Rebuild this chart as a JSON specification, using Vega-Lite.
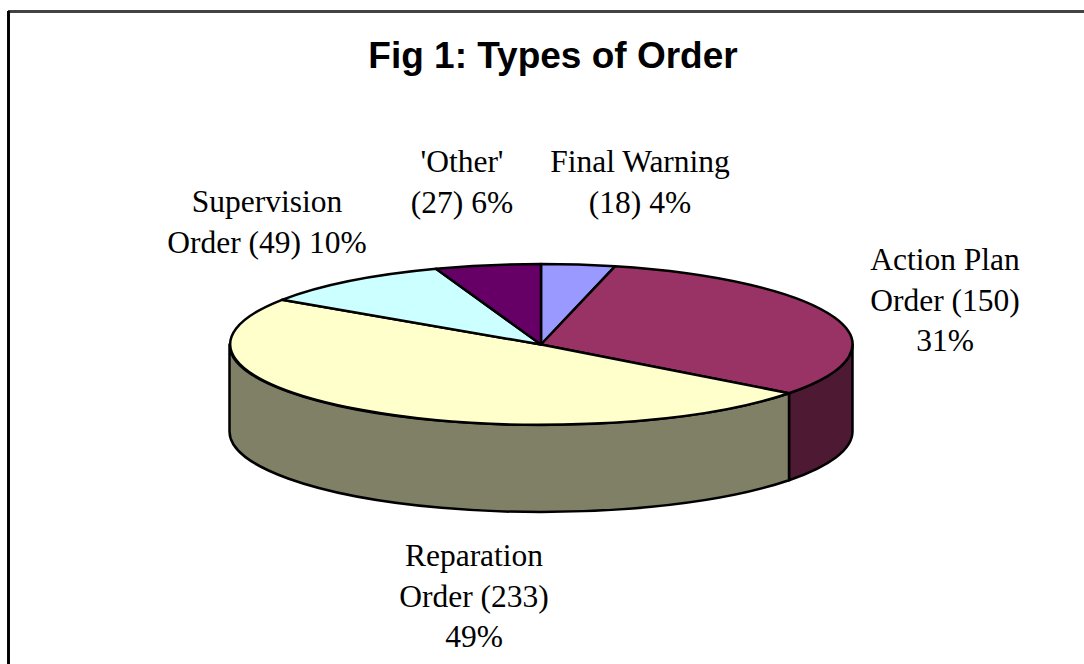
{
"$schema":"https://vega.github.io/schema/vega-lite/v6.json",
"width":1084,"height":664,"padding":0,"autosize":"none","background":"white",
"config":{"view":{"stroke":null}},
"title":{"text":"Fig 1: Types of Order","font":"Liberation Sans","fontSize":37,"fontWeight":"bold","color":"black","anchor":"middle","baseline":"alphabetic","offset":0,"dy":105,"dx":11},
"data":{"values":[
{"order":"Final Warning","count":18,"label":"Final Warning\n(18) 4%"},
{"order":"Action Plan Order","count":150,"label":"Action Plan\nOrder (150)\n31%"},
{"order":"Reparation Order","count":233,"label":"Reparation\nOrder (233)\n49%"},
{"order":"Supervision Order","count":49,"label":"Supervision\nOrder (49) 10%"},
{"order":"Other","count":27,"label":"'Other'\n(27) 6%"}
]},
"resolve":{"scale":{"x":"independent","y":"independent","shape":"independent","fill":"independent"}},
"layer":[
{"mark":{"type":"rule","stroke":"#404040","strokeWidth":2},
 "encoding":{"y":{"datum":11.5,"type":"quantitative","scale":{"domain":[0,664],"range":[0,664]},"axis":null},
 "x":{"datum":8,"type":"quantitative","scale":{"domain":[0,1084],"range":[0,1084]},"axis":null},"x2":{"datum":1084}}},
{"mark":{"type":"rule","stroke":"black","strokeWidth":2},
 "encoding":{"x":{"datum":8.5,"type":"quantitative","scale":{"domain":[0,1084],"range":[0,1084]},"axis":null},
 "y":{"datum":11,"type":"quantitative","scale":{"domain":[0,664],"range":[0,664]},"axis":null},"y2":{"datum":664}}},
{"transform":[{"filter":"datum.count >= 150"}],
 "mark":{"type":"point","filled":true,"opacity":1,"stroke":"black","strokeWidth":2.5,"strokeJoin":"round","clip":false},
 "encoding":{
 "x":{"datum":541,"type":"quantitative","scale":{"domain":[0,1084],"range":[0,1084]},"axis":null},
 "y":{"datum":344.5,"type":"quantitative","scale":{"domain":[0,664],"range":[0,664]},"axis":null},
 "size":{"value":4},
 "shape":{"field":"order","type":"nominal","legend":null,"scale":{"domain":["Action Plan Order","Reparation Order"],"range":[
 "M311.5 0L311.5 87A311.5 80.5 0 0 1 248 135.7L248 48.7A311.5 80.5 0 0 0 311.5 0Z",
 "M248 48.7L248 135.7A311.5 80.5 0 0 1 -311.5 87L-311.5 0A311.5 80.5 0 0 0 248 48.7Z"]}},
 "fill":{"field":"order","type":"nominal","legend":null,"scale":{"domain":["Action Plan Order","Reparation Order"],"range":["#4D1933","#808066"]}}
 }},
{"mark":{"type":"point","filled":true,"opacity":1,"stroke":"black","strokeWidth":2.5,"strokeJoin":"round"},
 "encoding":{
 "x":{"datum":541,"type":"quantitative","scale":{"domain":[0,1084],"range":[0,1084]},"axis":null},
 "y":{"datum":344.5,"type":"quantitative","scale":{"domain":[0,664],"range":[0,664]},"axis":null},
 "size":{"value":4},
 "shape":{"field":"order","type":"nominal","legend":null,"scale":{"domain":["Final Warning","Action Plan Order","Reparation Order","Supervision Order","Other"],"range":[
 "M0 0L0 -80.5A311.5 80.5 0 0 1 74 -78.2Z",
 "M0 0L74 -78.2A311.5 80.5 0 0 1 248 48.7Z",
 "M0 0L248 48.7A311.5 80.5 0 0 1 -259 -44.7Z",
 "M0 0L-259 -44.7A311.5 80.5 0 0 1 -105 -75.8Z",
 "M0 0L-105 -75.8A311.5 80.5 0 0 1 0 -80.5Z"]}},
 "fill":{"field":"order","type":"nominal","legend":null,"scale":{"domain":["Final Warning","Action Plan Order","Reparation Order","Supervision Order","Other"],"range":["#9999FF","#993366","#FFFFCC","#CCFFFF","#660066"]}}
 }},
{"mark":{"type":"text","font":"Liberation Serif","fontSize":31.5,"lineBreak":"\n","lineHeight":40.5,"align":"center","baseline":"middle","color":"black"},
 "encoding":{
 "x":{"field":"count","type":"quantitative","axis":null,"scale":{"zero":false,"nice":false,"domain":[18,27,49,150,233],"range":[640,462,267,945,474]}},
 "y":{"field":"count","type":"quantitative","axis":null,"scale":{"zero":false,"nice":false,"domain":[18,27,49,150,233],"range":[163,163,203,261,557]}},
 "text":{"field":"label","type":"nominal"}
 }}
]}
